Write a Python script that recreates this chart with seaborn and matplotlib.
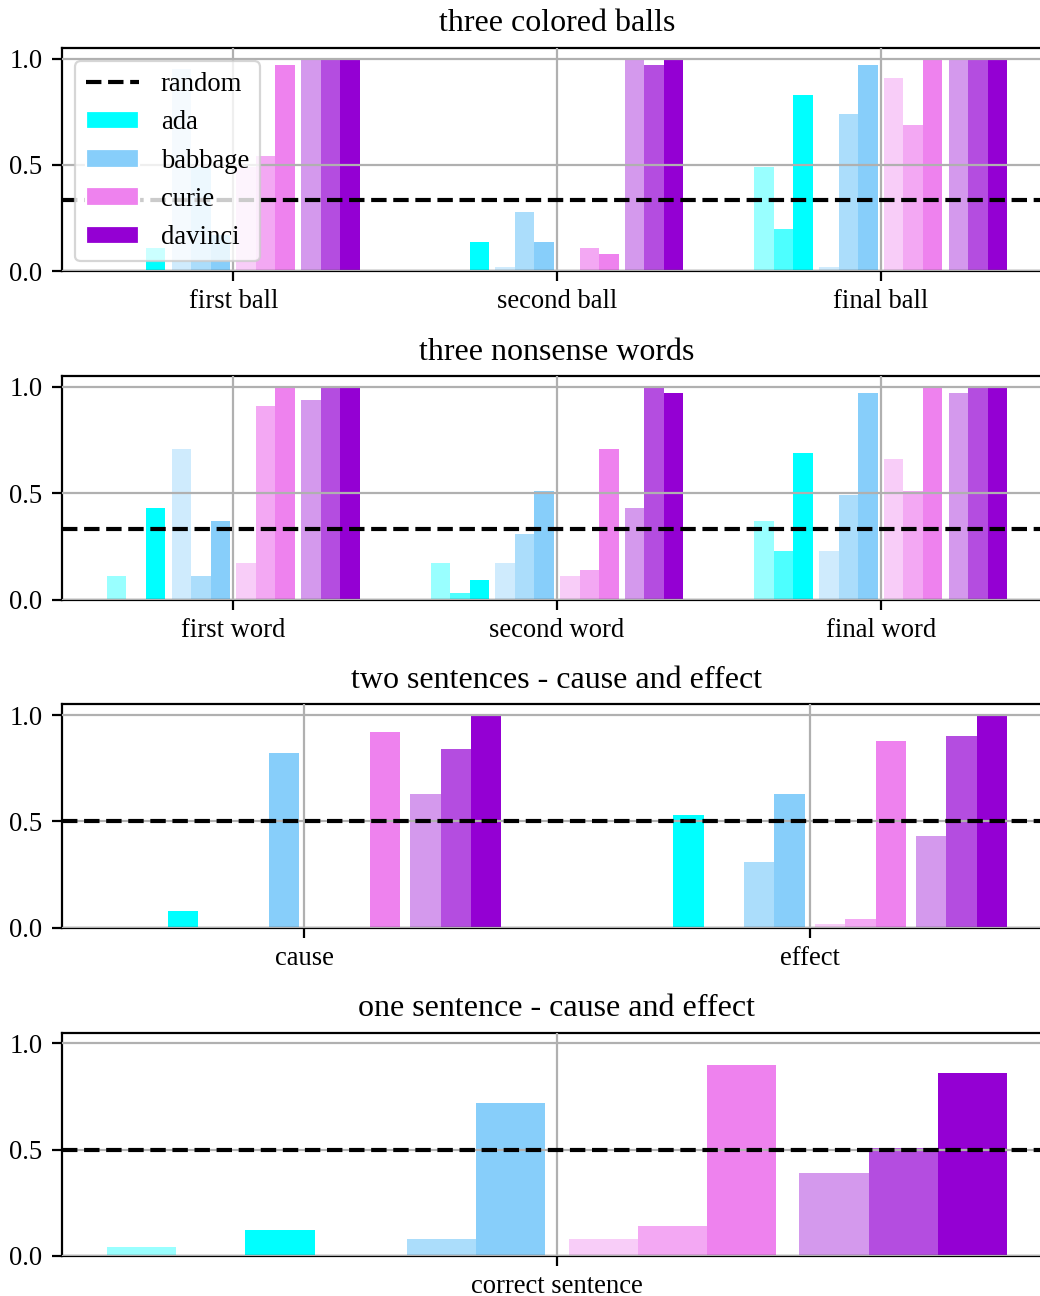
import numpy as np
import pandas as pd
import seaborn as sns
import matplotlib.pyplot as plt
from matplotlib.lines import Line2D
from matplotlib.patches import Patch
from matplotlib.colors import to_rgb

sns.set_theme(context='paper', style='ticks', rc={
    'axes.grid': True,
    'axes.axisbelow': False,
    'grid.color': '#b0b0b0',
    'grid.linewidth': 0.8,
    'axes.edgecolor': 'black',
    'axes.linewidth': 0.8,
    'xtick.color': 'black',
    'ytick.color': 'black',
    'xtick.major.width': 0.8,
    'ytick.major.width': 0.8,
    'xtick.major.size': 3.5,
    'ytick.major.size': 3.5,
    'xtick.major.pad': 3.0,
    'xtick.labelsize': 9.6,
    'ytick.labelsize': 9.6,
    'legend.fontsize': 9.6,
    'axes.titlesize': 11.5,
    'text.color': 'black',
})
plt.rcParams['font.family'] = ['Liberation Serif', 'DejaVu Serif']

# модели и оттенки (три варианта на модель)
models = ['ada', 'babbage', 'curie', 'davinci']
model_colors = ['#00FFFF', '#87CEFA', '#EE82EE', '#9400D3']
variants = ['v1', 'v2', 'v3']
variant_alpha = [0.4, 0.7, 1.0]
model_offset = [-0.3, -0.1, 0.1, 0.3]

# three colored balls
balls_labels = ['first ball', 'second ball', 'final ball']
balls_ada = [[0.0, 0.0, 0.49], [0.0, 0.0, 0.20], [0.11, 0.14, 0.83]]
balls_babbage = [[0.95, 0.02, 0.02], [0.49, 0.28, 0.74], [0.17, 0.14, 0.97]]
balls_curie = [[0.49, 0.0, 0.91], [0.54, 0.11, 0.69], [0.97, 0.08, 1.0]]
balls_davinci = [[1.0, 1.0, 1.0], [1.0, 0.97, 1.0], [1.0, 1.0, 1.0]]

# three nonsense words
words_labels = ['first word', 'second word', 'final word']
words_ada = [[0.11, 0.17, 0.37], [0.0, 0.03, 0.23], [0.43, 0.09, 0.69]]
words_babbage = [[0.71, 0.17, 0.23], [0.11, 0.31, 0.49], [0.37, 0.51, 0.97]]
words_curie = [[0.17, 0.11, 0.66], [0.91, 0.14, 0.51], [1.0, 0.71, 1.0]]
words_davinci = [[0.94, 0.43, 0.97], [1.0, 1.0, 1.0], [1.0, 0.97, 1.0]]

# two sentences - cause and effect
two_labels = ['cause', 'effect']
two_ada = [[0.0, 0.0], [0.0, 0.0], [0.08, 0.53]]
two_babbage = [[0.0, 0.0], [0.0, 0.31], [0.82, 0.63]]
two_curie = [[0.0, 0.02], [0.0, 0.04], [0.92, 0.88]]
two_davinci = [[0.63, 0.43], [0.84, 0.90], [1.0, 1.0]]

# one sentence - cause and effect
one_labels = ['correct sentence']
one_ada = [[0.04], [0.0], [0.12]]
one_babbage = [[0.0], [0.08], [0.72]]
one_curie = [[0.08], [0.14], [0.90]]
one_davinci = [[0.39], [0.51], [0.86]]

panels = [
    ('three colored balls', balls_labels, [balls_ada, balls_babbage, balls_curie, balls_davinci], 1 / 3),
    ('three nonsense words', words_labels, [words_ada, words_babbage, words_curie, words_davinci], 1 / 3),
    ('two sentences - cause and effect', two_labels, [two_ada, two_babbage, two_curie, two_davinci], 0.5),
    ('one sentence - cause and effect', one_labels, [one_ada, one_babbage, one_curie, one_davinci], 0.5),
]


def shade(color, a):
    rgb = np.array(to_rgb(color))
    return tuple(1 - a * (1 - rgb))


fig, axes = plt.subplots(4, 1, figsize=(5.2, 6.48), dpi=200)
fig.subplots_adjust(left=62 / 1040, right=1052 / 1040, top=1 - 48 / 1296,
                    bottom=1 - 1256 / 1296, hspace=0.47)

for ax, (title, labels, scores, chance) in zip(axes, panels):
    for m in range(len(models)):
        rows = []
        for v, vals in zip(variants, scores[m]):
            for g, val in enumerate(vals):
                rows.append({'x': g + model_offset[m], 'variant': v, 'acc': val})
        df = pd.DataFrame(rows)
        pal = [shade(model_colors[m], a) for a in variant_alpha]
        sns.barplot(data=df, x='x', y='acc', hue='variant', hue_order=variants,
                    palette=pal, native_scale=True, width=0.18, saturation=1,
                    errorbar=None, legend=False, linewidth=0, edgecolor='none', ax=ax)
    ax.axhline(chance, color='black', ls='--', lw=1.5, zorder=3)
    ax.set_xticks(range(len(labels)))
    ax.set_xticklabels(labels)
    ax.set_yticks([0, 0.5, 1.0])
    ax.set_ylim(0, 1.05)
    ax.set_xlabel('')
    ax.set_ylabel('')
    ax.set_title(title)
    ax.grid(True, color='#b0b0b0', lw=0.8)
    for s in ax.spines.values():
        s.set_visible(True)

handles = [Line2D([0], [0], color='black', ls='--', lw=1.5, label='random')]
handles += [Patch(facecolor=c, label=m) for m, c in zip(models, model_colors)]
axes[0].legend(handles=handles, loc='upper left', frameon=True)

fig.savefig('out.png', dpi=200)
